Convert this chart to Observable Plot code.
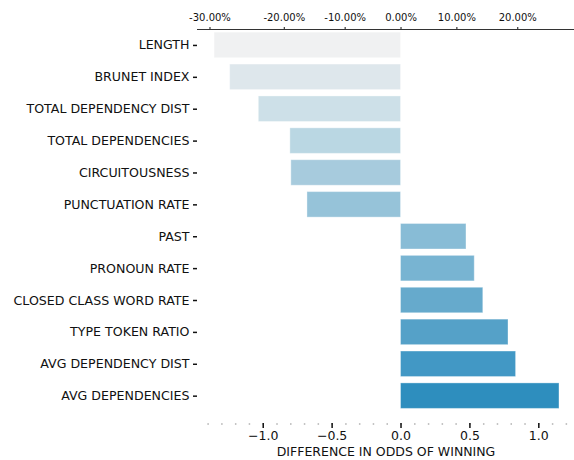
<!DOCTYPE html>
<html>
<head>
<meta charset="utf-8">
<script src="https://cdn.jsdelivr.net/npm/d3@7"></script>
<script src="https://cdn.jsdelivr.net/npm/@observablehq/plot@0.6"></script>
<style>
  body { margin: 0; background: #fff; }
  #chart svg { display: block; }
</style>
</head>
<body>
<div id="chart"></div>
<script>
const features = [
  "LENGTH", "BRUNET INDEX", "TOTAL DEPENDENCY DIST", "TOTAL DEPENDENCIES",
  "CIRCUITOUSNESS", "PUNCTUATION RATE", "PAST", "PRONOUN RATE",
  "CLOSED CLASS WORD RATE", "TYPE TOKEN RATIO", "AVG DEPENDENCY DIST", "AVG DEPENDENCIES"
];
const values = [-1.353, -1.240, -1.032, -0.803, -0.796, -0.679, 0.475, 0.535, 0.597, 0.780, 0.835, 1.150];
const colors = [
  "#f0f1f2", "#dee7ec", "#cde0e8", "#bad7e3", "#a7cbdd", "#96c3d9",
  "#88bcd6", "#78b4d2", "#66aacc", "#55a1c8", "#4298c5", "#2e8ebe"
];
const majorTicks = [-1.0, -0.5, 0.0, 0.5, 1.0];
const minorTicks = [-1.4, -1.3, -1.2, -1.1, -1.0, -0.9, -0.8, -0.7, -0.6, -0.5, -0.4, -0.3, -0.2, -0.1, 0.0,
  0.1, 0.2, 0.3, 0.4, 0.5, 0.6, 0.7, 0.8, 0.9, 1.0, 1.1, 1.2];
const pctTicks = [-0.30, -0.20, -0.10, 0.00, 0.10, 0.20];
const pctLabels = ["-30.00%", "-20.00%", "-10.00%", "0.00%", "10.00%", "20.00%"];

const data = features.map((f, i) => ({feature: f, value: values[i], color: colors[i]}));
const logit = p => Math.log((0.5 + p) / (0.5 - p));
const topPos = pctTicks.map(logit);
const topLabel = new Map(topPos.map((v, i) => [v, pctLabels[i]]));

const chart = Plot.plot({
  width: 574,
  height: 460,
  marginLeft: 197,
  marginRight: 0,
  marginTop: 29,
  marginBottom: 37,
  style: {fontFamily: "DejaVu Sans", fontSize: "12.5px", color: "#111", background: "#fff"},
  x: {domain: [-1.477, 1.259]},
  y: {domain: features, paddingInner: 0.2, paddingOuter: 0.1, insetBottom: 11.4, round: false},
  color: {type: "identity"},
  marks: [
    Plot.barX(data, {x: "value", y: "feature", fill: "color", stroke: "#ffffff", strokeOpacity: 0.35, strokeWidth: 1}),
    Plot.axisY({tickSize: 4, tickPadding: 4, fontSize: 12.6, strokeWidth: 1.5, label: null}),
    Plot.axisX({anchor: "bottom", ticks: minorTicks, tickSize: 2, stroke: "#c4c4c4", strokeWidth: 1.5, tickFormat: () => "", label: null}),
    Plot.axisX({anchor: "bottom", ticks: majorTicks, tickSize: 5, strokeWidth: 1.5, tickPadding: 3, fontSize: 12.5,
      tickFormat: d => d.toFixed(1).replace("-", "\u2212"),
      label: "DIFFERENCE IN ODDS OF WINNING", labelAnchor: "center", labelArrow: "none", labelOffset: 32}),
    Plot.axisX({anchor: "top", ticks: topPos, tickSize: 3, tickPadding: 6, fontSize: 10,
      tickFormat: d => topLabel.get(d), label: null}),
    Plot.frame({anchor: "top", stroke: "#333", strokeWidth: 1})
  ]
});
document.getElementById("chart").appendChild(chart);
</script>
</body>
</html>
